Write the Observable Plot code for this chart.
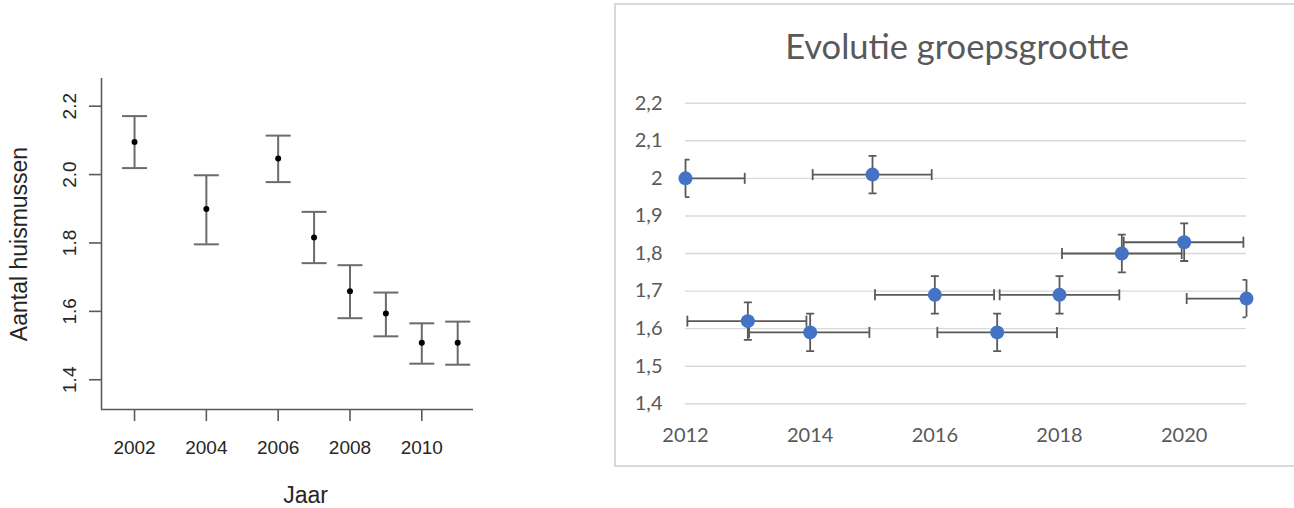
<!DOCTYPE html>
<html>
<head>
<meta charset="utf-8">
<script src="https://cdn.jsdelivr.net/npm/d3@7"></script>
<script src="https://cdn.jsdelivr.net/npm/@observablehq/plot@0.6"></script>
<style>
  html, body { margin: 0; padding: 0; background: #fff; overflow: hidden; }
  #wrap { position: relative; width: 1294px; height: 508px; overflow: hidden; background: #fff; }
  #left, #right { position: absolute; top: 0; }
  #left { left: 0; }
  #right { left: 600px; }
  #box { position: absolute; left: 614px; top: 3px; width: 720px; height: 464px; box-sizing: border-box; border: 2px solid #d9d9d9; pointer-events: none; }
  #title { position: absolute; left: 757px; width: 400px; top: 29px; text-align: center; font-family: Lato, "Open Sans", sans-serif; font-size: 34.5px; line-height: 1; color: #595959; white-space: nowrap; }
</style>
</head>
<body>
<div id="wrap">
  <div id="left"></div>
  <div id="right"></div>
  <div id="title">Evolutie groepsgrootte</div>
  <div id="box"></div>
</div>
<script>
// ---- Left chart (R plot): Aantal huismussen per jaar ----
const yearsL = [2002, 2004, 2006, 2007, 2008, 2009, 2010, 2011];
const meanL  = [2.095, 1.899, 2.047, 1.816, 1.659, 1.594, 1.508, 1.508];
const lowL   = [2.019, 1.796, 1.978, 1.741, 1.580, 1.527, 1.447, 1.444];
const highL  = [2.171, 1.998, 2.114, 1.891, 1.735, 1.655, 1.565, 1.570];
const xTicksL = [2002, 2004, 2006, 2008, 2010];
const yTicksL = [1.4, 1.6, 1.8, 2.0, 2.2];
const xDomainL = [2001.08, 2011.44];
const yDomainL = [1.313, 2.281];
const xTitleL = "Jaar";
const yTitleL = "Aantal huismussen";

// ---- Right chart (Excel): Evolutie groepsgrootte ----
const yearsR = [2012, 2013, 2014, 2015, 2016, 2017, 2018, 2019, 2020, 2021];
const meanR  = [2.00, 1.62, 1.59, 2.01, 1.69, 1.59, 1.69, 1.80, 1.83, 1.68];
const lowR   = [1.95, 1.57, 1.54, 1.96, 1.64, 1.54, 1.64, 1.75, 1.78, 1.63];
const highR  = [2.05, 1.67, 1.64, 2.06, 1.74, 1.64, 1.74, 1.85, 1.88, 1.73];
const xFromR = [2012, 2012.03, 2013.02, 2014.04, 2015.04, 2016.04, 2017.04, 2018.04, 2019.03, 2020.04];
const xToR   = [2012.95, 2013.94, 2014.95, 2015.95, 2016.95, 2017.96, 2018.96, 2019.96, 2020.95, 2021];
const xTicksR = [2012, 2014, 2016, 2018, 2020];
const yTicksR = [1.4, 1.5, 1.6, 1.7, 1.8, 1.9, 2.0, 2.1, 2.2];
const xDomainR = [2012, 2021];
const yDomainR = [1.4, 2.2];

const dataL = yearsL.map((y, i) => ({year: y, mean: meanL[i], low: lowL[i], high: highL[i]}));
const dataR = yearsR.map((y, i) => ({year: y, mean: meanR[i], low: lowR[i], high: highR[i], from: xFromR[i], to: xToR[i]}));

// custom cap symbols (half-length = r)
const hcap = {draw(ctx, size) { const r = Math.sqrt(size / Math.PI); ctx.moveTo(-r, 0); ctx.lineTo(r, 0); }};
const vcap = {draw(ctx, size) { const r = Math.sqrt(size / Math.PI); ctx.moveTo(0, -r); ctx.lineTo(0, r); }};

const fontL = "'Liberation Sans', Arial, sans-serif";
const inkL = "#262626";
const barL = "#6b6b6b";

const left = Plot.plot({
  width: 560, height: 508,
  marginLeft: 101, marginRight: 87, marginTop: 78, marginBottom: 99,
  style: {background: "transparent", fontFamily: fontL, color: inkL, overflow: "visible"},
  x: {domain: xDomainL},
  y: {domain: yDomainL},
  marks: [
    Plot.ruleX(xDomainL.slice(0, 1), {stroke: "#5a5a5a", strokeWidth: 1.6}),
    Plot.ruleY(yDomainL.slice(0, 1), {x1: xDomainL[0], x2: xDomainL[1], stroke: "#5a5a5a", strokeWidth: 1.6}),
    Plot.axisY({ticks: yTicksL, tickSize: 12, tickFormat: () => "", label: null, stroke: "#5a5a5a", strokeWidth: 1.6}),
    Plot.axisX({ticks: xTicksL, tickSize: 12, tickPadding: 19, tickFormat: d3.format("d"), label: null, fontSize: 19, stroke: "#5a5a5a", strokeWidth: 1.6}),
    Plot.text(yTicksL, {y: d => d, frameAnchor: "left", textAnchor: "middle", lineAnchor: "middle", dx: -32, rotate: -90, text: d3.format(".1f"), fontSize: 19, fill: inkL}),
    Plot.text([yTitleL], {frameAnchor: "left", textAnchor: "middle", lineAnchor: "middle", dx: -82, rotate: -90, text: d => d, fontSize: 23, fill: inkL}),
    Plot.text([xTitleL], {frameAnchor: "bottom", textAnchor: "middle", lineAnchor: "middle", dy: 86, dx: 18, text: d => d, fontSize: 23, fill: inkL}),
    Plot.ruleX(dataL, {x: "year", y1: "low", y2: "high", stroke: barL, strokeWidth: 2}),
    Plot.dot(dataL, {x: "year", y: "high", symbol: hcap, r: 12.5, fill: "none", stroke: barL, strokeWidth: 2}),
    Plot.dot(dataL, {x: "year", y: "low", symbol: hcap, r: 12.5, fill: "none", stroke: barL, strokeWidth: 2}),
    Plot.dot(dataL, {x: "year", y: "mean", r: 3, fill: "#000", stroke: "none"})
  ]
});
document.getElementById("left").appendChild(left);

const fontR = "Lato, 'Open Sans', sans-serif";
const inkR = "#595959";
const barR = "#595959";

const right = Plot.plot({
  width: 694, height: 508,
  marginLeft: 85, marginRight: 48, marginTop: 102.7, marginBottom: 104.7,
  style: {background: "transparent", fontFamily: fontR, color: inkR, overflow: "visible"},
  x: {domain: xDomainR},
  y: {domain: yDomainR},
  marks: [
    Plot.gridY(yTicksR, {stroke: "#d9d9d9", strokeOpacity: 1, strokeWidth: 1.4}),
    Plot.axisY({ticks: yTicksR, tickSize: 0, tickPadding: 23, tickFormat: d => String(d).replace(".", ","), label: null, fontSize: 20}),
    Plot.axisX({ticks: xTicksR, tickSize: 0, tickPadding: 24, tickFormat: d3.format("d"), label: null, fontSize: 20}),
    // horizontal (x) error bars
    Plot.ruleY(dataR, {y: "mean", x1: "from", x2: "to", stroke: barR, strokeWidth: 1.8, clip: true}),
    Plot.dot(dataR.filter(d => d.from > xDomainR[0]), {x: "from", y: "mean", symbol: vcap, r: 5.5, fill: "none", stroke: barR, strokeWidth: 1.8}),
    Plot.dot(dataR.filter(d => d.to < xDomainR[1]), {x: "to", y: "mean", symbol: vcap, r: 5.5, fill: "none", stroke: barR, strokeWidth: 1.8}),
    // vertical (y) error bars
    Plot.ruleX(dataR, {x: "year", y1: "low", y2: "high", stroke: barR, strokeWidth: 1.8}),
    Plot.dot(dataR, {x: "year", y: "high", symbol: hcap, r: 4, fill: "none", stroke: barR, strokeWidth: 1.8, clip: true}),
    Plot.dot(dataR, {x: "year", y: "low", symbol: hcap, r: 4, fill: "none", stroke: barR, strokeWidth: 1.8, clip: true}),
    Plot.dot(dataR, {x: "year", y: "mean", r: 7, fill: "#4472c4", stroke: "none"})
  ]
});
document.getElementById("right").appendChild(right);
</script>
</body>
</html>
